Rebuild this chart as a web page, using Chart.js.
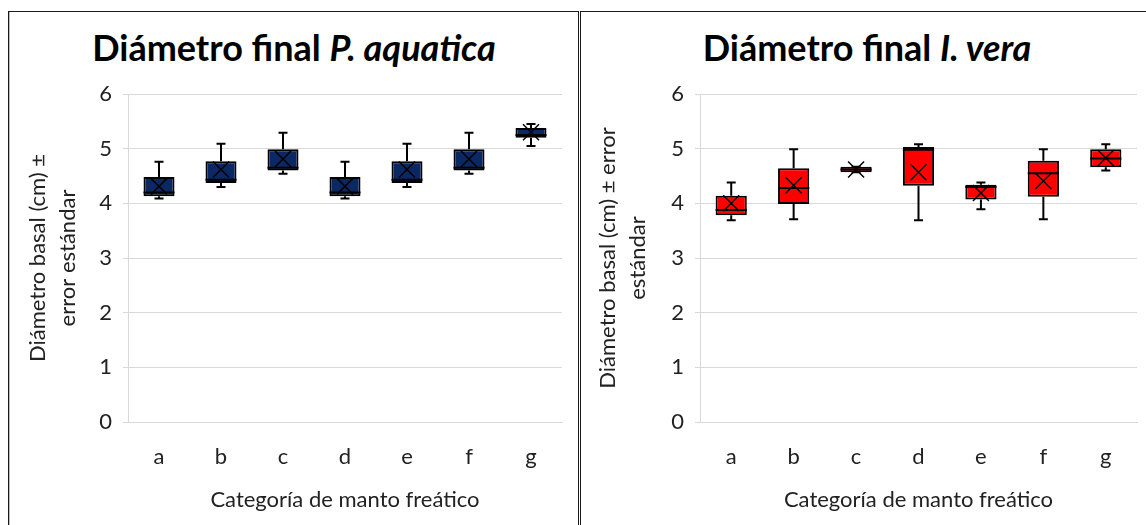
<!DOCTYPE html>
<html lang="es">
<head>
<meta charset="UTF-8">
<title>Diámetro final</title>
<script src="https://cdn.jsdelivr.net/npm/chart.js@4.4.0/dist/chart.umd.min.js"></script>
<style>
    body { margin: 0; width: 1146px; height: 525px; overflow: hidden; background: #fff; position: relative; font-family: Lato, sans-serif; }
    .panel { position: absolute; top: 11px; height: 530px; border: 1.5px solid #1a1a1a; box-sizing: border-box; background: #fff; }
    #panel1 { left: 8px; width: 571px; box-shadow: 1px 0 0 #bbb inset; }
    #panel2 { left: 580px; width: 590px; }
    .titulo { position: absolute; top: 25px; height: 44px; line-height: 44px; text-align: center; font-weight: bold; font-size: 36px; color: #000; }
    #titulo1 { left: 8px; width: 572px; }
    #titulo2 { left: 580px; width: 574px; }
    canvas { position: absolute; top: 12px; }
    #grafico1 { left: 10px; }
    #grafico2 { left: 582px; }
</style>
</head>
<body>
    <div class="panel" id="panel1"></div>
    <div class="panel" id="panel2"></div>
    <div class="titulo" id="titulo1">Diámetro final <i>P. aquatica</i></div>
    <div class="titulo" id="titulo2">Diámetro final <i>I. vera</i></div>
    <canvas id="grafico1" width="567" height="513"></canvas>
    <canvas id="grafico2" width="564" height="513"></canvas>

<script>
    var categorias = ['a', 'b', 'c', 'd', 'e', 'f', 'g'];
    var ticksY = [0, 1, 2, 3, 4, 5, 6];

    // P. aquatica
    var pMin   = [4.09, 4.30, 4.54, 4.09, 4.30, 4.54, 5.05];
    var pQ1    = [4.13, 4.37, 4.60, 4.13, 4.37, 4.60, 5.20];
    var pMed   = [4.20, 4.43, 4.65, 4.20, 4.43, 4.65, 5.25];
    var pQ3    = [4.48, 4.77, 4.99, 4.48, 4.77, 4.99, 5.38];
    var pMax   = [4.76, 5.09, 5.29, 4.76, 5.09, 5.29, 5.45];
    var pMedia = [4.31, 4.62, 4.81, 4.31, 4.62, 4.81, 5.30];

    // I. vera
    var vMin   = [3.69, 3.71, 4.57, 3.69, 3.89, 3.71, 4.60];
    var vQ1    = [3.78, 3.99, 4.57, 4.32, 4.07, 4.12, 4.66];
    var vMed   = [3.88, 4.28, 4.62, 4.98, 4.30, 4.55, 4.82];
    var vQ3    = [4.14, 4.64, 4.67, 5.03, 4.34, 4.78, 4.99];
    var vMax   = [4.38, 4.99, 4.67, 5.08, 4.38, 4.99, 5.08];
    var vMedia = [4.00, 4.33, 4.62, 4.57, 4.19, 4.41, 4.83];

    var fuente = 'Lato';
    var gris = '#d9d9d9';

    // dibuja bigotes, mediana y media (X) encima de las barras flotantes
    function pluginCajas(min, med, max, media) {
        return {
            id: 'cajas',
            afterDatasetsDraw: function (chart) {
                var ctx = chart.ctx;
                var y = chart.scales.y;
                var meta = chart.getDatasetMeta(0);
                ctx.save();
                ctx.strokeStyle = '#000';
                ctx.lineWidth = 2;
                meta.data.forEach(function (bar, i) {
                    var cx = bar.x;
                    var half = bar.width / 2;
                    var yTop = Math.min(bar.y, bar.base);
                    var yBot = Math.max(bar.y, bar.base);
                    var yMax = y.getPixelForValue(max[i]);
                    var yMin = y.getPixelForValue(min[i]);
                    var yMed = y.getPixelForValue(med[i]);
                    var yMedia = y.getPixelForValue(media[i]);

                    ctx.beginPath();
                    ctx.moveTo(cx, yTop); ctx.lineTo(cx, yMax);
                    ctx.moveTo(cx - 4.5, yMax); ctx.lineTo(cx + 4.5, yMax);
                    ctx.moveTo(cx, yBot); ctx.lineTo(cx, yMin);
                    ctx.moveTo(cx - 4.5, yMin); ctx.lineTo(cx + 4.5, yMin);
                    ctx.moveTo(cx - half, yMed); ctx.lineTo(cx + half, yMed);
                    ctx.stroke();

                    ctx.lineWidth = 1.5;
                    ctx.beginPath();
                    ctx.moveTo(cx - 8, yMedia - 8); ctx.lineTo(cx + 8, yMedia + 8);
                    ctx.moveTo(cx - 8, yMedia + 8); ctx.lineTo(cx + 8, yMedia - 8);
                    ctx.stroke();
                    ctx.lineWidth = 2;
                });
                ctx.restore();
            }
        };
    }

    function crearGrafico(id, min, q1, med, q3, max, media, color, tituloY, padDer, padTitulo) {
        var ctx = document.getElementById(id).getContext('2d');
        return new Chart(ctx, {
            type: 'bar',
            data: {
                labels: categorias,
                datasets: [{
                    data: q1.map(function (v, i) { return [v, q3[i]]; }),
                    backgroundColor: color,
                    borderColor: '#000',
                    borderWidth: 2,
                    borderSkipped: false,
                    barPercentage: 0.5,
                    categoryPercentage: 1
                }]
            },
            options: {
                responsive: false,
                animation: false,
                layout: { padding: { top: 82, right: padDer, left: 0, bottom: 0 } },
                plugins: { legend: { display: false }, tooltip: { enabled: false } },
                scales: {
                    x: {
                        grid: { display: false, drawTicks: false },
                        border: { display: true, color: gris },
                        ticks: { font: { family: fuente, size: 22 }, color: '#222', padding: 22 },
                        title: {
                            display: true,
                            text: 'Categoría de manto freático',
                            font: { family: fuente, size: 22 },
                            color: '#222',
                            padding: { top: 0, bottom: 12 }
                        },
                        afterFit: function (scale) { scale.height = 103; }
                    },
                    y: {
                        min: 0,
                        max: 6,
                        afterBuildTicks: function (scale) {
                            scale.ticks = ticksY.map(function (v) { return { value: v }; });
                        },
                        grid: { color: gris, lineWidth: 1, drawTicks: true, tickLength: 5 },
                        border: { display: true, color: gris },
                        ticks: { font: { family: fuente, size: 22 }, color: '#222', padding: 11 },
                        title: {
                            display: true,
                            text: tituloY,
                            font: { family: fuente, size: 22, lineHeight: 1.35 },
                            color: '#222',
                            padding: { top: padTitulo, bottom: 0 }
                        },
                        afterFit: function (scale) { scale.width = 118; }
                    }
                }
            },
            plugins: [pluginCajas(min, med, max, media)]
        });
    }

    crearGrafico('grafico1', pMin, pQ1, pMed, pQ3, pMax, pMedia, '#0a2864',
        ['Diámetro basal (cm) ±', 'error estándar'], 15, 13);
    crearGrafico('grafico2', vMin, vQ1, vMed, vQ3, vMax, vMedia, '#ff0000',
        ['Diámetro basal (cm) ± error', 'estándar'], 9, 11);
</script>
</body>
</html>
